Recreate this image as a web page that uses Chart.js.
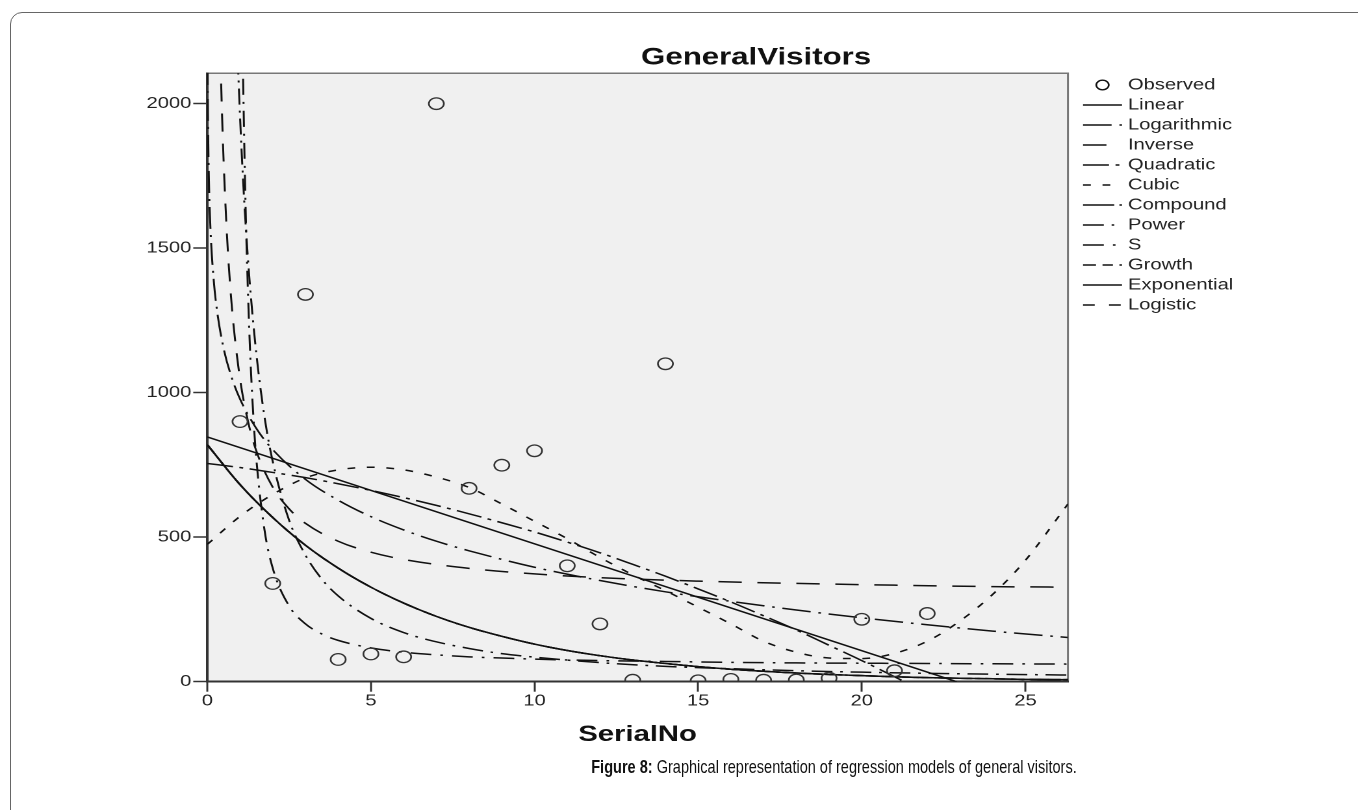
<!DOCTYPE html>
<html>
<head>
<meta charset="utf-8">
<title>GeneralVisitors</title>
<script src="https://cdn.jsdelivr.net/npm/chart.js@4.4.1/dist/chart.umd.min.js"></script>
<style>
  html, body { margin: 0; padding: 0; background: #fff; }
  #page { position: relative; width: 1358px; height: 810px; overflow: hidden; }
  #frame {
    position: absolute; left: 10px; top: 12px; width: 1400px; height: 900px;
    border: 1px solid #666; border-top-left-radius: 12px;
  }
  #chart { position: absolute; left: 0; top: 0; }
  #caption {
    position: absolute; left: 834px; top: 756px;
    transform: translateX(-50%) scaleX(0.765);
    white-space: nowrap; color: #111;
    font-family: 'Liberation Sans', Arial, sans-serif;
    font-size: 19px;
  }
</style>
</head>
<body>
<div id="page">
  <div id="frame"></div>
  <!-- the SPSS picture is stretched sideways, so the canvas is drawn narrow and widened -->
  <canvas id="chart" width="1045" height="810" style="width:1358px;height:810px"></canvas>
  <div id="caption"><b>Figure 8:</b> Graphical representation of regression models of general visitors.</div>
</div>
<script>
const TITLE = 'GeneralVisitors';

// Observed points
const serialNo = [1, 2, 3, 4, 5, 6, 7, 8, 9, 10, 11, 12, 13, 14, 15, 16, 17, 18, 19, 20, 21, 22];
const observedVisitors = [900, 340, 1340, 77, 96, 86, 2000, 669, 749, 799, 401, 200, 5, 1100, 3, 8, 5, 6, 12, 216, 38, 236];

// Fitted curves (x, value)
const linearX = [0, 22.9];
const linearY = [847, 0];

const logX = [0.01, 0.02, 0.05, 0.1, 0.2, 0.3, 0.5, 0.75, 1, 1.5, 2, 3, 4, 5, 6, 7, 8, 10, 12, 14, 16, 18, 20, 22, 24, 26.3];
const logY = [2141, 1966, 1735, 1560, 1385, 1282, 1153, 1051, 978, 876, 803, 700, 628, 571, 525, 486, 453, 396, 350, 311, 278, 248, 221, 197, 175, 153];

const inverseX = [0.36, 0.4, 0.45, 0.5, 0.6, 0.7, 0.8, 1, 1.25, 1.5, 2, 2.5, 3, 4, 5, 6, 8, 10, 12, 15, 18, 21, 24, 26.3];
const inverseY = [2381, 2173, 1965, 1798, 1548, 1369, 1236, 1048, 898, 798, 673, 598, 548, 486, 448, 423, 392, 373, 360, 348, 340, 334, 329, 327];

const quadX = [0, 1, 2, 3, 4, 5, 6, 7, 8, 9, 10, 11, 12, 13, 14, 15, 16, 17, 18, 19, 20, 21, 21.3];
const quadY = [755, 741, 724, 706, 685, 662, 637, 610, 581, 550, 518, 483, 446, 406, 365, 321, 276, 228, 179, 126, 73, 17, 0];

const cubicX = [0, 1, 2, 3, 4, 5, 6, 7, 8, 9, 10, 11, 12, 13, 14, 15, 16, 17, 18, 19, 20, 21, 22, 23, 24, 25, 26.3];
const cubicY = [475, 572, 648, 705, 733, 742, 733, 708, 672, 615, 555, 495, 430, 370, 315, 258, 200, 140, 102, 82, 80, 98, 140, 210, 302, 420, 615];

const powerX = [0.93, 1, 1.1, 1.2, 1.3, 1.5, 1.75, 2, 2.5, 3, 3.5, 4, 5, 6, 7, 8, 9, 10, 12, 14, 16, 18, 20, 22, 24, 26.3];
const powerY = [2156, 1957, 1722, 1534, 1377, 1134, 915, 762, 559, 438, 355, 297, 219, 170, 138, 115, 97, 85, 66, 53, 45, 38, 33, 29, 26, 23];

const sX = [1.08, 1.1, 1.15, 1.2, 1.3, 1.4, 1.5, 1.75, 2, 2.5, 3, 3.5, 4, 5, 6, 7, 8, 9, 10, 12, 14, 16, 18, 20, 22, 24, 26.3];
const sY = [2197, 2052, 1749, 1510, 1166, 934, 769, 524, 393, 262, 200, 165, 143, 117, 102, 93, 86, 82, 78, 73, 70, 67, 65, 64, 63, 62, 61];

// compound, growth, exponential and logistic all land on the same curve
const expX = [0, 1, 2, 3, 4, 5, 6, 7, 8, 9, 10, 11, 12, 13, 14, 15, 16, 17, 18, 19, 20, 21, 22, 23, 24, 25, 26.3];
const expY = [820, 682, 568, 472, 393, 327, 272, 226, 188, 157, 130, 108, 90, 75, 63, 52, 43, 36, 30, 25, 21, 17, 14, 12, 10, 8, 7];

const yTicks = [0, 500, 1000, 1500, 2000];
const xTicks = [0, 5, 10, 15, 20, 25];

const INK = '#111';
const FONT = "'Liberation Sans', Arial, sans-serif";

function pts(xs, ys) {
    return xs.map((x, i) => ({ x: x, y: ys[i] }));
}

function curve(label, xs, ys, dash) {
    return {
        label: label,
        data: pts(xs, ys),
        showLine: true,
        borderColor: INK,
        borderWidth: 1.5,
        borderDash: dash,
        pointRadius: 0,
        cubicInterpolationMode: 'monotone'
    };
}

const datasets = [
    {
        label: 'Observed',
        data: pts(serialNo, observedVisitors),
        showLine: false,
        pointStyle: 'circle',
        pointRadius: 5.8,
        borderColor: '#333',
        borderWidth: 1.3,
        backgroundColor: 'rgba(0,0,0,0)'
    },
    curve('Linear', linearX, linearY, []),
    curve('Logarithmic', logX, logY, [22, 6, 2, 6]),
    curve('Inverse', inverseX, inverseY, [18, 12]),
    curve('Quadratic', quadX, quadY, [20, 5, 3, 5]),
    curve('Cubic', cubicX, cubicY, [6, 9]),
    curve('Compound', expX, expY, [24, 4, 2, 4]),
    curve('Power', powerX, powerY, [16, 6, 2, 6]),
    curve('S', sX, sY, [16, 7, 2, 7]),
    curve('Growth', expX, expY, [10, 5, 8, 5]),
    curve('Exponential', expX, expY, []),
    curve('Logistic', expX, expY, [9, 11])
];

// grey plot background + thin top/right frame
const plotFrame = {
    id: 'plotFrame',
    beforeDraw(chart) {
        const a = chart.chartArea;
        const ctx = chart.ctx;
        ctx.save();
        ctx.fillStyle = '#f0f0f0';
        ctx.fillRect(a.left, a.top, a.right - a.left, a.bottom - a.top);
        ctx.strokeStyle = '#777';
        ctx.lineWidth = 1.5;
        ctx.beginPath();
        ctx.moveTo(a.left, a.top);
        ctx.lineTo(a.right, a.top);
        ctx.lineTo(a.right, a.bottom);
        ctx.stroke();
        ctx.restore();
    }
};

// SPSS centres the title over the whole graph, legend included
const chartTitle = {
    id: 'chartTitle',
    afterDraw(chart) {
        const ctx = chart.ctx;
        ctx.save();
        ctx.font = 'bold 24px ' + FONT;
        ctx.fillStyle = INK;
        ctx.textAlign = 'center';
        ctx.textBaseline = 'middle';
        ctx.fillText(TITLE, chart.chartArea.right - 240, 58);
        ctx.restore();
    }
};

// SPSS style legend to the right of the plot
const spssLegend = {
    id: 'spssLegend',
    afterDraw(chart) {
        const ctx = chart.ctx;
        const x0 = chart.chartArea.right + 11.6;
        const x1 = x0 + 30;
        const textX = x1 + 4.6;
        ctx.save();
        ctx.font = '15.5px ' + FONT;
        ctx.textBaseline = 'middle';
        chart.data.datasets.forEach((ds, i) => {
            const y = 85 + i * 20;
            ctx.strokeStyle = INK;
            ctx.lineWidth = 1.5;
            if (ds.showLine) {
                ctx.setLineDash(ds.borderDash || []);
                ctx.beginPath();
                ctx.moveTo(x0, y);
                ctx.lineTo(x1, y);
                ctx.stroke();
            } else {
                ctx.setLineDash([]);
                ctx.lineWidth = 1.3;
                ctx.beginPath();
                ctx.arc((x0 + x1) / 2, y, 4.8, 0, Math.PI * 2);
                ctx.stroke();
            }
            ctx.fillStyle = '#222';
            ctx.fillText(ds.label, textX, y);
        });
        ctx.restore();
    }
};

new Chart(document.getElementById('chart'), {
    type: 'scatter',
    data: { datasets: datasets },
    plugins: [plotFrame, chartTitle, spssLegend],
    options: {
        responsive: false,
        animation: false,
        devicePixelRatio: 2,
        events: [],
        layout: { padding: { left: 60, right: 223.2, top: 73.3, bottom: 61.8 } },
        plugins: {
            legend: { display: false },
            tooltip: { enabled: false },
            title: { display: false }
        },
        scales: {
            x: {
                type: 'linear',
                min: 0,
                max: 26.3,
                afterFit: (s) => { s.height = 66.5; },
                afterBuildTicks: (s) => { s.ticks = xTicks.map(v => ({ value: v })); },
                ticks: { color: '#222', padding: 0, font: { family: FONT, size: 15.5 }, callback: (v) => String(v) },
                grid: { drawOnChartArea: false, tickLength: 10, tickColor: '#333', tickWidth: 1.5 },
                border: { color: '#333', width: 2 },
                title: {
                    display: true,
                    text: 'SerialNo',
                    color: INK,
                    font: { family: FONT, size: 22.5, weight: 'bold', lineHeight: 1.2 },
                    padding: 0
                }
            },
            y: {
                min: 0,
                max: 2105,
                afterFit: (s) => { s.width = 99.5; },
                afterBuildTicks: (s) => { s.ticks = yTicks.map(v => ({ value: v })); },
                ticks: { color: '#222', padding: 1.5, font: { family: FONT, size: 15.5 }, callback: (v) => String(v) },
                grid: { drawOnChartArea: false, tickLength: 10.8, tickColor: '#333', tickWidth: 1.5 },
                border: { color: '#333', width: 2 }
            }
        }
    }
});
</script>
</body>
</html>
